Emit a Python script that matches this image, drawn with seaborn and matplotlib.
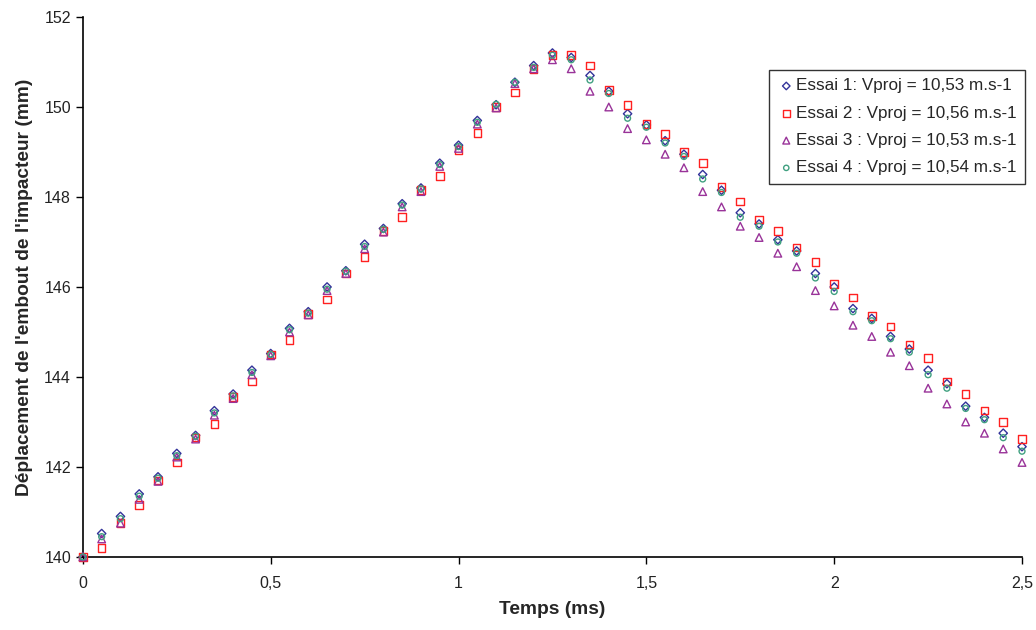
import numpy as np
import pandas as pd
import seaborn as sns
from matplotlib import pyplot as plt
from matplotlib.ticker import FuncFormatter

# temps (ms), un point toutes les 0,05 ms
temps = [0.00, 0.05, 0.10, 0.15, 0.20, 0.25, 0.30, 0.35, 0.40, 0.45,
         0.50, 0.55, 0.60, 0.65, 0.70, 0.75, 0.80, 0.85, 0.90, 0.95,
         1.00, 1.05, 1.10, 1.15, 1.20, 1.25, 1.30, 1.35, 1.40, 1.45,
         1.50, 1.55, 1.60, 1.65, 1.70, 1.75, 1.80, 1.85, 1.90, 1.95,
         2.00, 2.05, 2.10, 2.15, 2.20, 2.25, 2.30, 2.35, 2.40, 2.45, 2.50]

essai1 = [140.00, 140.52, 140.90, 141.40, 141.78, 142.30, 142.70, 143.25, 143.62, 144.15,
          144.52, 145.08, 145.45, 146.00, 146.36, 146.95, 147.30, 147.85, 148.20, 148.75,
          149.15, 149.70, 150.05, 150.55, 150.92, 151.20, 151.10, 150.70, 150.35, 149.85,
          149.60, 149.25, 148.95, 148.50, 148.15, 147.65, 147.40, 147.05, 146.80, 146.30,
          146.00, 145.52, 145.30, 144.90, 144.62, 144.15, 143.85, 143.35, 143.10, 142.75, 142.45]

essai2 = [140.00, 140.20, 140.75, 141.15, 141.70, 142.10, 142.65, 142.95, 143.55, 143.90,
          144.50, 144.82, 145.40, 145.72, 146.30, 146.66, 147.25, 147.56, 148.15, 148.47,
          149.05, 149.42, 150.00, 150.32, 150.85, 151.15, 151.15, 150.92, 150.38, 150.05,
          149.62, 149.40, 149.00, 148.75, 148.22, 147.90, 147.50, 147.25, 146.88, 146.56,
          146.06, 145.77, 145.36, 145.12, 144.72, 144.42, 143.90, 143.62, 143.25, 143.00, 142.62]

essai3 = [140.00, 140.40, 140.75, 141.28, 141.68, 142.22, 142.62, 143.15, 143.52, 144.05,
          144.47, 145.00, 145.38, 145.92, 146.30, 146.85, 147.22, 147.78, 148.12, 148.68,
          149.08, 149.62, 149.98, 150.52, 150.85, 151.05, 150.85, 150.35, 150.00, 149.52,
          149.27, 148.95, 148.65, 148.12, 147.78, 147.35, 147.10, 146.75, 146.45, 145.92,
          145.58, 145.15, 144.90, 144.55, 144.25, 143.75, 143.40, 143.00, 142.75, 142.40, 142.10]

essai4 = [140.00, 140.45, 140.85, 141.35, 141.75, 142.25, 142.68, 143.20, 143.58, 144.10,
          144.50, 145.05, 145.42, 145.95, 146.35, 146.90, 147.28, 147.82, 148.18, 148.72,
          149.12, 149.66, 150.06, 150.55, 150.88, 151.15, 151.05, 150.60, 150.30, 149.75,
          149.55, 149.20, 148.90, 148.40, 148.10, 147.55, 147.35, 147.00, 146.75, 146.20,
          145.90, 145.45, 145.25, 144.85, 144.55, 144.05, 143.75, 143.30, 143.05, 142.65, 142.35]

labels = ['Essai 1: Vproj = 10,53 m.s-1',
          'Essai 2 : Vproj = 10,56 m.s-1',
          'Essai 3 : Vproj = 10,53 m.s-1',
          'Essai 4 : Vproj = 10,54 m.s-1']
couleurs = ['#33339a', '#ff2020', '#993399', '#40a080']
marqueurs = ['D', 's', '^', 'o']
tailles = [18, 30, 30, 18]

sns.set_theme(style='ticks')
plt.rcParams['font.family'] = ['Liberation Sans', 'DejaVu Sans']

fig = plt.figure(figsize=(10.36, 6.3), dpi=100)
ax = fig.add_axes([0.080, 0.116, 0.9065, 0.857])

for serie, lab, c, m, s in zip([essai1, essai2, essai3, essai4], labels, couleurs, marqueurs, tailles):
    df = pd.DataFrame({'temps': temps, 'depl': serie})
    sns.scatterplot(data=df, x='temps', y='depl', ax=ax, marker=m, s=s,
                    facecolors='none', edgecolor=c, linewidth=1.0, label=lab,
                    clip_on=False, zorder=3)

ax.set_xlim(0, 2.5)
ax.set_ylim(140, 152)
ax.set_xticks([0, 0.5, 1, 1.5, 2, 2.5])
ax.set_yticks(list(range(140, 153, 2)))
ax.xaxis.set_major_formatter(FuncFormatter(lambda v, p: ('%g' % v).replace('.', ',')))
ax.tick_params(axis='both', labelsize=11.5, length=5, width=1, color='black', labelcolor='#222222')
ax.tick_params(axis='x', pad=9)
for sp in ['top', 'right']:
    ax.spines[sp].set_visible(False)
for sp in ['left', 'bottom']:
    ax.spines[sp].set_color('black')
    ax.spines[sp].set_linewidth(1.2)

ax.set_xlabel('Temps (ms)', fontsize=13.8, fontweight='bold', labelpad=7)
ax.set_ylabel("Déplacement de l'embout de l'impacteur (mm)", fontsize=13.8, fontweight='bold', labelpad=8)

leg = ax.legend(loc='upper right', bbox_to_anchor=(1.003, 0.902), fontsize=12.3, frameon=True,
                fancybox=False, edgecolor='black', handletextpad=0.05, borderpad=0.5,
                labelspacing=0.72, handlelength=1.0, borderaxespad=0, markerscale=0.9)
leg.get_frame().set_linewidth(1.0)

plt.savefig('out.png', dpi=100)
